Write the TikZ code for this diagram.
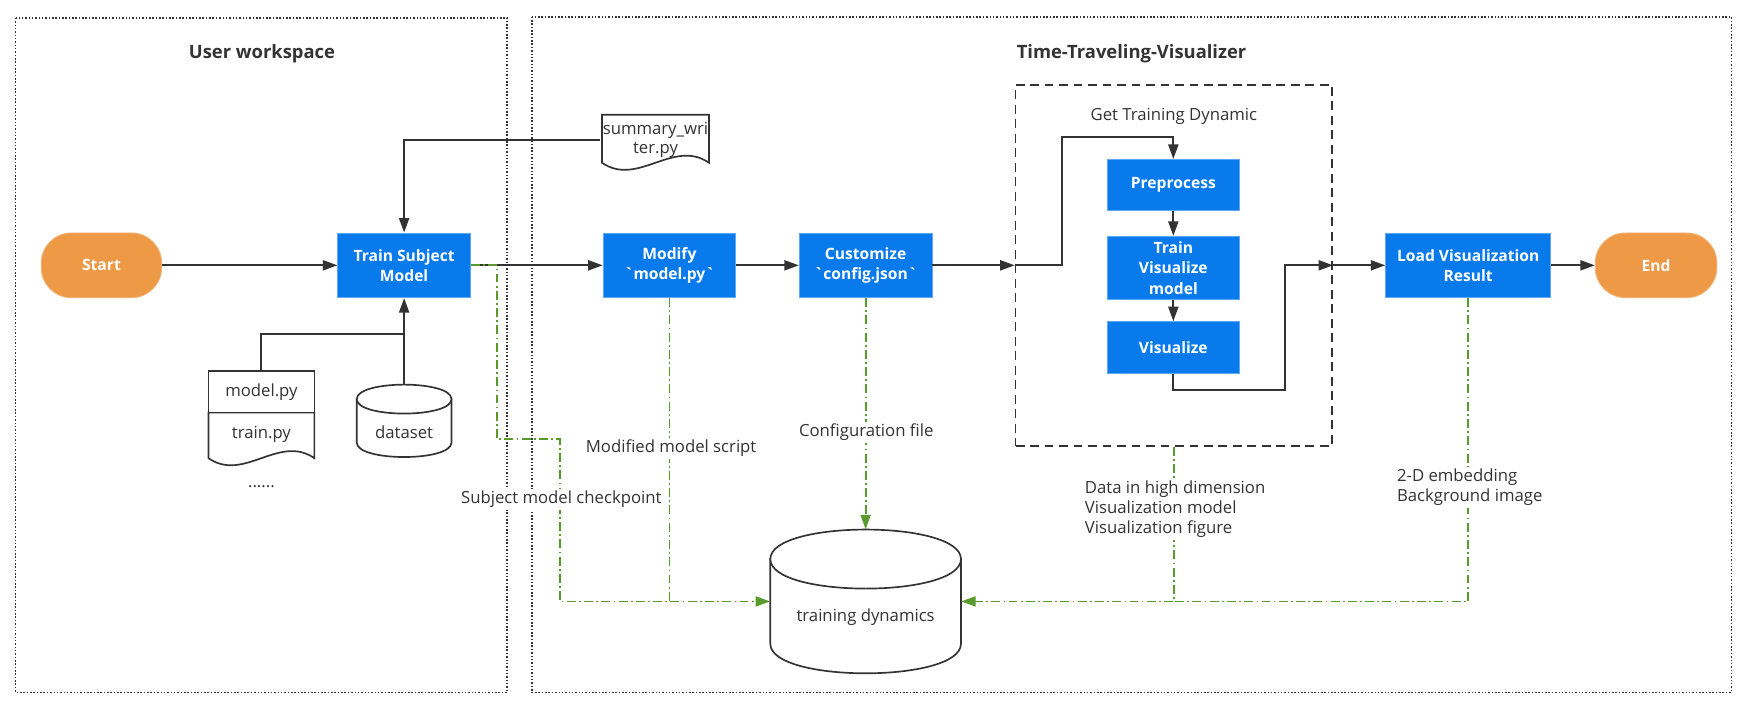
\documentclass[tikz,border=0pt]{standalone}
\usepackage{fontspec}
\setmainfont{Open Sans}
\usetikzlibrary{arrows.meta}
\definecolor{boxblue}{RGB}{8,122,236}
\definecolor{boxedge}{RGB}{95,168,245}
\definecolor{termorange}{RGB}{237,153,70}
\definecolor{ink}{RGB}{51,51,51}
\definecolor{flowgreen}{RGB}{88,154,44}
\begin{document}
\begin{tikzpicture}[x=1pt,y=-1pt,
  bluebox/.style={rectangle, fill=boxblue, draw=boxedge, line width=0.8pt, text=white,
    font=\fontsize{14}{18}\selectfont\bfseries, align=center, inner sep=2pt,
    minimum width=119pt, minimum height=58pt},
  terminal/.style={rectangle, rounded corners=27pt, fill=termorange, draw=termorange!75!white,
    line width=0.8pt, text=white, font=\fontsize{14}{18}\selectfont\bfseries,
    minimum width=108pt, minimum height=58pt},
  lbl/.style={text=ink, font=\fontsize{15}{17.8}\selectfont, inner sep=2pt},
  glabel/.style={lbl, fill=white},
  ttl/.style={text=ink, font=\fontsize{16.5}{20}\selectfont\bfseries},
  panel/.style={draw=ink, line width=1.4pt, dash pattern=on 1.4pt off 1.6pt},
  docline/.style={draw=ink, line width=1.5pt, fill=white},
  arr/.style={draw=ink, line width=1.7pt, -{Triangle[length=13pt,width=9pt]}},
  plain/.style={draw=ink, line width=1.7pt},
  gline/.style={draw=flowgreen, line width=1.6pt, dash pattern=on 8pt off 3pt on 1.5pt off 3pt},
  garr/.style={gline, -{Triangle[length=13pt,width=9pt]}},
  ghost/.style={rectangle, inner sep=0pt}
]
\useasboundingbox (0,0) rectangle (1568,634);

% panels
\draw[panel] (14,16) rectangle (455,621);
\draw[panel] (477,15) rectangle (1553,621);
\node[ttl] (t1) at (235,48) {User workspace};
\node[ttl] (t2) at (1015,48) {Time-Traveling-Visualizer};

% dashed group
\node[rectangle, draw=ink, line width=1.6pt, dash pattern=on 8pt off 5pt,
  minimum width=284pt, minimum height=324pt] (gtd) at (1053,238) {};
\node[lbl] (gtdlabel) at (1053,104) {Get Training Dynamic};

% main nodes
\node[terminal] (start) at (91,238) {Start};
\node[bluebox] (train) at (362.5,238) {Train Subject\\Model};
\node[bluebox] (modify) at (600.5,238) {Modify\\\textasciigrave model.py\textasciigrave};
\node[bluebox] (custom) at (776.5,238) {Customize\\\textasciigrave config.json\textasciigrave};
\node[bluebox, minimum width=118.6pt, minimum height=46pt] (pre) at (1052.5,166) {Preprocess};
\node[bluebox, minimum width=118.6pt, minimum height=57pt] (tvm) at (1052.5,240.5) {Train\\Visualize\\model};
\node[bluebox, minimum width=118.6pt, minimum height=46.5pt] (vis) at (1052.5,311.75) {Visualize};
\node[bluebox, minimum width=148pt] (load) at (1317,238) {Load Visualization\\Result};
\node[terminal, minimum width=109pt] (end) at (1485.5,238) {End};

% summary_writer document
\draw[docline] (540,146) -- (540,103) -- (636,103) -- (636,146)
  .. controls (604,124) and (572,168) .. (540,146) -- cycle;
\node[lbl, align=center] (sw) at (588,125.5) {summary\_wri\\ter.py};

% model.py / train.py document
\draw[docline] (187,370) -- (187,411) .. controls (218.7,433) and (250.3,389) .. (282,411) -- (282,370) -- cycle;
\draw[docline] (187,333) rectangle (282,370);
\node[ghost, minimum width=95pt, minimum height=37pt, lbl] (mpy) at (234.5,351.5) {model.py};
\node[lbl] (tpy) at (234.5,390) {train.py};
\node[lbl, anchor=base] (more) at (234.5,437) {......};

% dataset cylinder
\draw[docline] (320,358) -- (320,397) .. controls (320,414.3) and (405,414.3) .. (405,397) -- (405,358) -- cycle;
\draw[docline] (320,358) .. controls (320,340.7) and (405,340.7) .. (405,358)
  .. controls (405,375.3) and (320,375.3) .. (320,358) -- cycle;
\node[ghost, minimum width=85pt, minimum height=65pt] (ds) at (362.5,377.5) {};
\node[lbl] (dslabel) at (362.5,388) {dataset};

% training dynamics cylinder
\draw[docline] (691,501.5) -- (691,577.5) .. controls (691,612.8) and (862,612.8) .. (862,577.5) -- (862,501.5) -- cycle;
\draw[docline] (691,501.5) .. controls (691,466.2) and (862,466.2) .. (862,501.5)
  .. controls (862,536.8) and (691,536.8) .. (691,501.5) -- cycle;
\node[ghost, minimum width=171pt, minimum height=129pt] (td) at (776.5,539.5) {};
\node[lbl] (tdlabel) at (776.5,553.6) {training dynamics};

% helper coordinates
\coordinate (jn) at (362.5,300);
\coordinate (c1) at (953,123);
\coordinate (c2) at (1153,350);
\coordinate (g1) at (446,394);
\coordinate (g2) at (502,394);
\coordinate (gj) at (1053,539.5);

% black connectors
\draw[arr] (start.east) -- (train.west);
\draw[arr] (sw.west) -| (train.north);
\draw[plain] (mpy.north) |- (jn);
\draw[arr] (ds.north) -- (train.south);
\draw[arr] (train.east) -- (modify.west);
\draw[arr] (modify.east) -- (custom.west);
\draw[arr] (custom.east) -- (gtd.west);
\draw[arr] (gtd.west) -| (c1) -| (pre.north);
\draw[arr] (pre.south) -- (tvm.north);
\draw[arr] (tvm.south) -- (vis.north);
\draw[arr] (vis.south) |- (c2) |- (gtd.east);
\draw[arr] (gtd.east) -- (load.west);
\draw[arr] (load.east) -- (end.west);

% green data-flow connectors
\draw[garr] (train.east) -| (g1) -- (g2) |- (td.west);
\draw[gline] (modify.south) -- (modify.south |- td.west);
\draw[garr] (custom.south) -- (td.north);
\draw[garr] (gtd.south) |- (td.east);
\draw[gline] (load.south) |- (gj);

% green labels
\node[glabel] (lckpt) at (503.5,448) {Subject model checkpoint};
\node[glabel] (lmod) at (602,402) {Modified model script};
\node[glabel] (lcfg) at (777,388) {Configuration file};
\node[glabel, align=left, anchor=west] (ldata) at (971,457) {Data in high dimension\\Visualization model\\Visualization figure};
\node[glabel, align=left, anchor=west] (lemb) at (1251,437) {2-D embedding\\Background image};
\end{tikzpicture}
\end{document}
